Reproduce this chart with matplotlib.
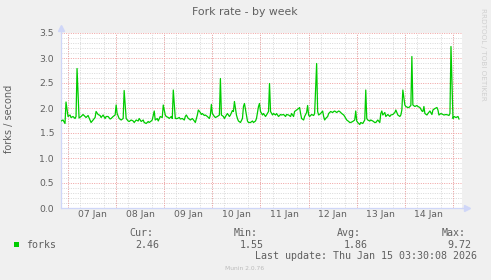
# Munin style "Fork rate - by week" chart
import numpy as np
import matplotlib
matplotlib.use("Agg")
import matplotlib.pyplot as plt
import matplotlib.dates as mdates
from matplotlib.ticker import MultipleLocator, FormatStrFormatter

# hours after 07 Jan 2026 00:00, and fork rate (forks / second)
hours = [-3.5, -2.5, -1.5, -1.0, 0.0, 1.0, 1.5, 2.5, 3.5, 4.0, 4.5, 5.5, 6.5, 7.5,
         8.5, 9.0, 10.0, 11.0, 11.5, 12.5, 13.5, 14.0, 15.0, 16.0, 16.5, 17.5, 18.5,
         19.0, 20.0, 21.0, 21.5, 22.5, 23.5, 24.0, 24.5, 25.5, 26.5, 27.5, 28.0, 29.0,
         30.0, 30.5, 31.5, 32.5, 33.0, 34.0, 35.0, 35.5, 36.5, 37.5, 38.0, 39.0, 40.0,
         40.5, 41.5, 42.0, 43.0, 43.5, 44.5, 45.0, 46.0, 47.0, 47.5, 48.5, 49.0, 50.0,
         50.5, 51.5, 52.0, 52.5, 53.5, 54.5, 55.5, 56.0, 57.0, 58.0, 58.5, 59.0, 60.0,
         60.5, 61.0, 62.0, 63.0, 63.5, 64.5, 65.0, 66.0, 66.5, 67.0, 68.0, 68.5, 69.5,
         70.5, 71.0, 71.5, 72.0, 73.0, 73.5, 74.5, 75.5, 76.0, 76.5, 77.5, 78.0, 79.0,
         79.5, 80.5, 81.0, 82.0, 82.5, 83.0, 84.0, 84.5, 85.0, 86.0, 87.0, 87.5, 88.0,
         89.0, 89.5, 90.0, 91.0, 92.0, 92.5, 93.5, 94.0, 95.0, 95.5, 96.0, 97.0, 97.5,
         98.5, 99.0, 100.0, 100.5, 101.0, 102.0, 102.5, 103.5, 104.0, 105.0, 106.0,
         106.5, 107.5, 108.5, 109.0, 110.0, 111.0, 111.5, 112.5, 113.0, 114.0, 115.0,
         115.5, 116.0, 116.5, 117.5, 118.0, 119.0, 119.5, 120.0, 120.5, 121.5, 122.5,
         123.0, 124.0, 124.5, 125.0, 126.0, 127.0, 127.5, 128.0, 128.5, 129.5, 130.0,
         131.0, 132.0, 132.5, 133.0, 134.0, 135.0, 135.5, 136.5, 137.5, 138.0, 139.0,
         140.0, 140.5, 141.0, 142.0, 143.0, 143.5, 144.0, 144.5, 145.5, 146.0, 147.0,
         148.0, 148.5, 149.0, 149.5, 150.5, 151.0, 152.0, 153.0, 153.5, 154.5, 155.5,
         156.0, 156.5, 157.0, 158.0, 158.5, 159.5, 160.5, 161.0, 162.0, 163.0, 163.5,
         164.5, 165.5, 166.0, 166.5, 167.0, 168.0, 168.5, 169.5, 170.0, 171.0, 171.5,
         172.0, 173.0, 174.0, 174.5, 175.5, 176.5, 177.0, 177.5, 178.0, 179.0, 179.5,
         180.5, 181.5, 182.0, 183.0, 184.0, 184.5, 185.0, 186.0, 187.0, 187.5, 188.5,
         189.5, 190.0, 190.5, 191.0, 192.0, 192.5, 193.5, 194.5, 195.0]
forks = [1.74, 1.76, 1.69, 2.12, 1.83, 1.86, 1.81, 1.83, 1.79, 1.83, 2.79, 1.80, 1.83, 1.87,
         1.83, 1.81, 1.85, 1.76, 1.71, 1.76, 1.81, 1.93, 1.87, 1.85, 1.81, 1.86, 1.79,
         1.83, 1.83, 1.78, 1.79, 1.83, 1.86, 2.06, 1.89, 1.79, 1.76, 1.79, 2.35, 1.79,
         1.74, 1.73, 1.76, 1.74, 1.71, 1.76, 1.74, 1.79, 1.73, 1.76, 1.71, 1.69, 1.73,
         1.71, 1.74, 1.76, 1.94, 1.76, 1.79, 1.74, 1.83, 1.81, 2.06, 1.86, 1.83, 1.81,
         1.79, 1.83, 1.79, 2.36, 1.79, 1.79, 1.81, 1.78, 1.79, 1.76, 1.83, 1.86, 1.79,
         1.78, 1.76, 1.79, 1.74, 1.71, 1.86, 1.96, 1.91, 1.87, 1.89, 1.85, 1.86, 1.83,
         1.79, 1.86, 2.07, 1.89, 1.83, 1.81, 1.83, 1.86, 2.59, 1.86, 1.83, 1.79, 1.86,
         1.89, 1.83, 1.86, 1.95, 1.93, 2.13, 1.86, 1.79, 1.74, 1.71, 1.79, 2.03, 2.09,
         1.86, 1.74, 1.71, 1.71, 1.74, 1.71, 1.74, 1.79, 2.03, 2.09, 1.93, 1.86, 1.89,
         1.83, 1.86, 1.93, 2.49, 1.93, 1.86, 1.89, 1.86, 1.89, 1.83, 1.87,
         1.86, 1.87, 1.83, 1.87, 1.86, 1.83, 1.89, 1.83, 1.93, 1.96, 1.99,
         2.01, 1.89, 1.79, 1.76, 1.83, 1.91, 2.05, 1.86, 1.83, 1.87, 1.85,
         1.89, 2.89, 1.93, 1.86, 1.89, 1.94, 1.83, 1.76, 1.79, 1.83, 1.89,
         1.93, 1.91, 1.93, 1.94, 1.91, 1.94, 1.93, 1.89, 1.86, 1.83, 1.76,
         1.73, 1.71, 1.71, 1.73, 1.76, 1.94, 1.74, 1.71, 1.67, 1.71, 1.69,
         1.76, 2.36, 1.79, 1.76, 1.74, 1.76, 1.74, 1.71, 1.71, 1.76, 1.71,
         1.89, 1.94, 1.86, 1.91, 1.83, 1.87, 1.83, 1.86, 1.87, 1.91, 1.96,
         1.86, 1.83, 1.86, 1.96, 2.36, 2.06, 2.03, 2.01, 2.01, 2.05, 3.03,
         2.06, 2.03, 2.05, 2.03, 2.01, 1.94, 1.93, 2.03, 1.89, 1.86, 1.89,
         1.94, 1.87, 1.96, 1.99, 2.01, 1.96, 1.86, 1.89, 1.87, 1.86, 1.87,
         1.86, 1.85, 1.89, 3.23, 1.79, 1.83, 1.81, 1.83, 1.78]

stat_names = ["Cur:", "Min:", "Avg:", "Max:"]
stat_values = [2.46, 1.55, 1.86, 9.72]
series_name = "forks"
last_update = "Last update: Thu Jan 15 03:30:08 2026"

W, H = 491, 280
BACK = "#F0F0F0"
FONT = "#606060"
AXIS = "#CFD6F8"
GREEN = "#00CC00"

t0 = np.datetime64("2026-01-07T00:00")
times = t0 + (np.array(hours) * 60).astype("timedelta64[m]")

fig = plt.figure(figsize=(W / 100, H / 100), dpi=100, facecolor=BACK)
ax = fig.add_axes([61 / W, 72 / H, 401 / W, 175 / H])
ax.set_facecolor("white")

ax.plot(times, forks, color=GREEN, lw=0.9, zorder=3)

ax.set_xlim(t0 - np.timedelta64(210, "m"), t0 + np.timedelta64(196 * 60 + 30, "m"))
ax.set_ylim(0, 3.5)

# y grid: red every 0.5, gray every 0.1
ax.yaxis.set_major_locator(MultipleLocator(0.5))
ax.yaxis.set_minor_locator(MultipleLocator(0.1))
ax.yaxis.set_major_formatter(FormatStrFormatter("%.1f"))
ax.grid(which="minor", axis="y", color="#D8D8D8", lw=0.7, ls=(0, (1, 1.4)))
ax.grid(which="major", axis="y", color="#F0A0A0", lw=0.7, ls=(0, (1, 1.4)))

# x grid: gray every 6 hours, red at midnight, labels at noon
ax.xaxis.set_major_locator(mdates.HourLocator(byhour=[12]))
ax.xaxis.set_major_formatter(mdates.DateFormatter("%d %b"))
ax.xaxis.set_minor_locator(mdates.HourLocator(byhour=[0, 6, 12, 18]))
ax.grid(which="minor", axis="x", color="#D8D8D8", lw=0.7, ls=(0, (1, 1.4)))
days = np.arange("2026-01-07", "2026-01-16", dtype="datetime64[D]")
for d in days:
    ax.axvline(d, color="#F0A0A0", lw=0.7, ls=(0, (1, 1.4)), zorder=1.5)
ax.set_axisbelow(True)

ax.tick_params(which="both", length=0, colors=FONT, labelsize=6.7)
ax.tick_params(axis="y", pad=5)
ax.tick_params(axis="x", pad=1.5)

for s in ["top", "right"]:
    ax.spines[s].set_visible(False)
for s in ["left", "bottom"]:
    ax.spines[s].set_color(AXIS)
    ax.spines[s].set_linewidth(0.9)

# axis arrows
ax.plot([0, 0], [1, 1.02], color=AXIS, lw=0.9, transform=ax.transAxes, clip_on=False)
ax.plot([0], [1.03], marker="^", ms=4, color=AXIS, mec=AXIS, transform=ax.transAxes, clip_on=False)
ax.plot([1, 1.008], [0, 0], color=AXIS, lw=0.9, transform=ax.transAxes, clip_on=False)
ax.plot([1.013], [0], marker=">", ms=4, color=AXIS, mec=AXIS, transform=ax.transAxes, clip_on=False)

def px(x, y):
    return x / W, 1 - y / H

fig.text(*px(245, 12), "Fork rate - by week", ha="center", va="center", fontsize=7.8, color=FONT)
fig.text(*px(9.5, 119), "forks / second", ha="center", va="center", rotation=90, fontsize=7, color=FONT)
fig.text(*px(483, 8), "RRDTOOL / TOBI OETIKER", ha="center", va="top", rotation=270,
         fontsize=5.2, color="#D0D0D0")

# legend
mono = "DejaVu Sans Mono"
fig.patches.append(plt.Rectangle(px(14, 247), 5 / W, 5 / H, transform=fig.transFigure,
                                 facecolor=GREEN, edgecolor="none"))
fig.text(*px(26.5, 244.5), series_name, ha="left", va="center", family=mono, fontsize=7.2, color=FONT)
for i, (name, val) in enumerate(zip(stat_names, stat_values)):
    xr = 153.2 + 104 * i
    fig.text(*px(xr, 233.5), name, ha="right", va="center", family=mono, fontsize=7.2, color=FONT)
    fig.text(*px(xr + 6.5, 244.5), f"{val:.2f}", ha="right", va="center", family=mono,
             fontsize=7.2, color=FONT)
fig.text(*px(477.2, 256), last_update, ha="right", va="center", family=mono, fontsize=7.2, color=FONT)
fig.text(*px(245, 268.5), "Munin 2.0.76", ha="center", va="center", fontsize=4.3, color="#BBBBBB")

fig.savefig("out.png", dpi=100, facecolor=BACK)
